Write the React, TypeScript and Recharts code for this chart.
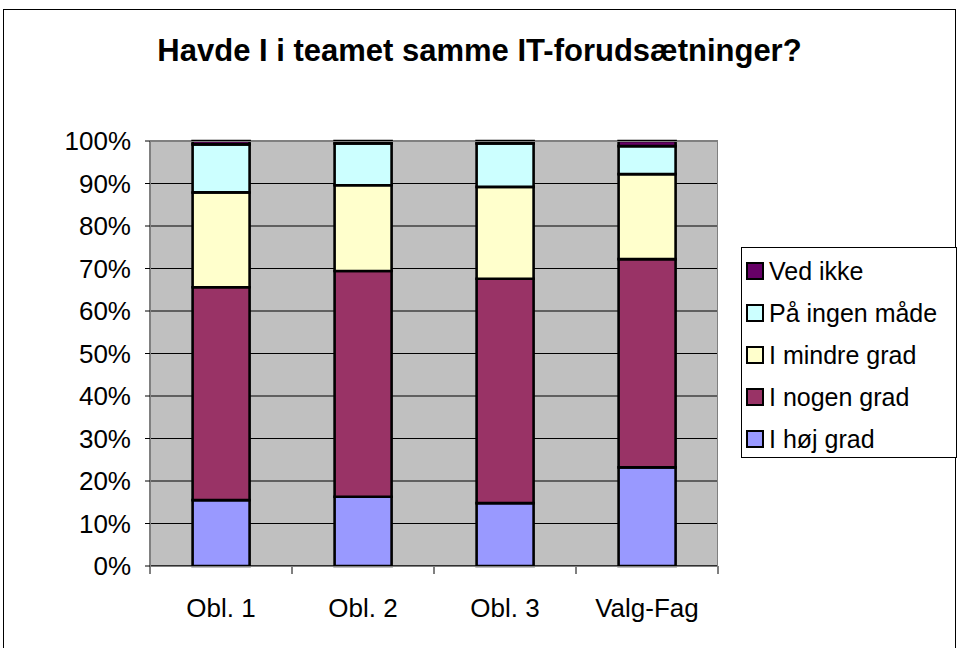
import { BarChart, Bar, XAxis, YAxis, CartesianGrid } from "recharts";

const categories = ["Obl. 1", "Obl. 2", "Obl. 3", "Valg-Fag"];
const hoejGrad = [15.5, 16.3, 14.8, 23.2];
const nogenGrad = [50.1, 53.1, 52.8, 49.0];
const mindreGrad = [22.3, 20.2, 21.6, 20.0];
const ingenMaade = [11.3, 9.8, 10.2, 6.6];
const vedIkke = [0.8, 0.6, 0.6, 1.2];
const yTicks = [0, 0.1, 0.2, 0.3, 0.4, 0.5, 0.6, 0.7, 0.8, 0.9, 1];

const series = [
  { key: "hoej", name: "I høj grad", color: "#9999FF" },
  { key: "nogen", name: "I nogen grad", color: "#993366" },
  { key: "mindre", name: "I mindre grad", color: "#FFFFCC" },
  { key: "ingen", name: "På ingen måde", color: "#CCFFFF" },
  { key: "ved", name: "Ved ikke", color: "#660066" },
];

const data = categories.map((c, i) => ({
  name: c,
  hoej: hoejGrad[i],
  nogen: nogenGrad[i],
  mindre: mindreGrad[i],
  ingen: ingenMaade[i],
  ved: vedIkke[i],
}));

const FONT = "'Liberation Sans', Arial, sans-serif";

// x tick: label plus tick marks on the category boundaries
function XTick(props: any) {
  const { x, y, payload, index } = props;
  const half = payload?.offset || 71;
  return (
    <g>
      <line x1={x - half} y1={y - 8} x2={x - half} y2={y} stroke="#000" />
      {index === categories.length - 1 && (
        <line x1={x + half} y1={y - 8} x2={x + half} y2={y} stroke="#000" />
      )}
      <text x={x} y={y + 43} textAnchor="middle" fontSize={26} fontFamily={FONT} fill="#000">
        {payload.value}
      </text>
    </g>
  );
}

export default function App() {
  const legendItems = [...series].reverse();
  return (
    <div style={{ position: "fixed", left: 0, top: 0, width: 959, height: 648, background: "#fff", overflow: "hidden", fontFamily: FONT }}>
      <div style={{ position: "absolute", left: 3, top: 9, width: 953, height: 660, border: "1px solid #000", boxSizing: "border-box" }} />
      <div style={{ position: "absolute", left: 0, top: 33, width: 959, textAlign: "center", fontSize: 31, fontWeight: "bold", color: "#000" }}>
        Havde I i teamet samme IT-forudsætninger?
      </div>
      <div style={{ position: "absolute", left: 0, top: 0 }}>
        <BarChart
          width={959}
          height={648}
          data={data}
          stackOffset="expand"
          barCategoryGap="30%"
          margin={{ top: 141, right: 241, bottom: 52, left: 0 }}
        >
          <CartesianGrid vertical={false} stroke="#000" fill="#C0C0C0" fillOpacity={1} />
          <XAxis
            dataKey="name"
            height={30}
            axisLine={{ stroke: "#000" }}
            tickLine={false}
            tick={<XTick />}
            interval={0}
          />
          <YAxis
            width={150}
            domain={[0, 1]}
            ticks={yTicks}
            interval={0}
            tickFormatter={(v: number) => `${Math.round(v * 100)}%`}
            axisLine={{ stroke: "#000" }}
            tickLine={{ stroke: "#000" }}
            tickSize={5}
            tickMargin={14}
            tick={{ fontSize: 26, fontFamily: FONT, fill: "#000" }}
          />
          {series.map((s) => (
            <Bar
              key={s.key}
              dataKey={s.key}
              name={s.name}
              stackId="a"
              fill={s.color}
              stroke="#000"
              strokeWidth={2.6}
              isAnimationActive={false}
            />
          ))}
        </BarChart>
      </div>
      <div style={{ position: "absolute", left: 150, top: 141, width: 568, height: 426, border: "1px solid #808080", boxSizing: "border-box", pointerEvents: "none" }} />
      <div style={{ position: "absolute", left: 741, top: 247, width: 216, height: 211, border: "1px solid #000", boxSizing: "border-box", background: "#fff" }}>
        {legendItems.map((s, i) => (
          <div key={s.key} style={{ position: "absolute", left: 4, top: 9 + i * 42, height: 28, display: "flex", alignItems: "center", whiteSpace: "nowrap" }}>
            <span style={{ display: "inline-block", width: 14, height: 14, background: s.color, border: "2px solid #000", marginRight: 5 }} />
            <span style={{ fontSize: 25, color: "#000" }}>{s.name}</span>
          </div>
        ))}
      </div>
    </div>
  );
}
